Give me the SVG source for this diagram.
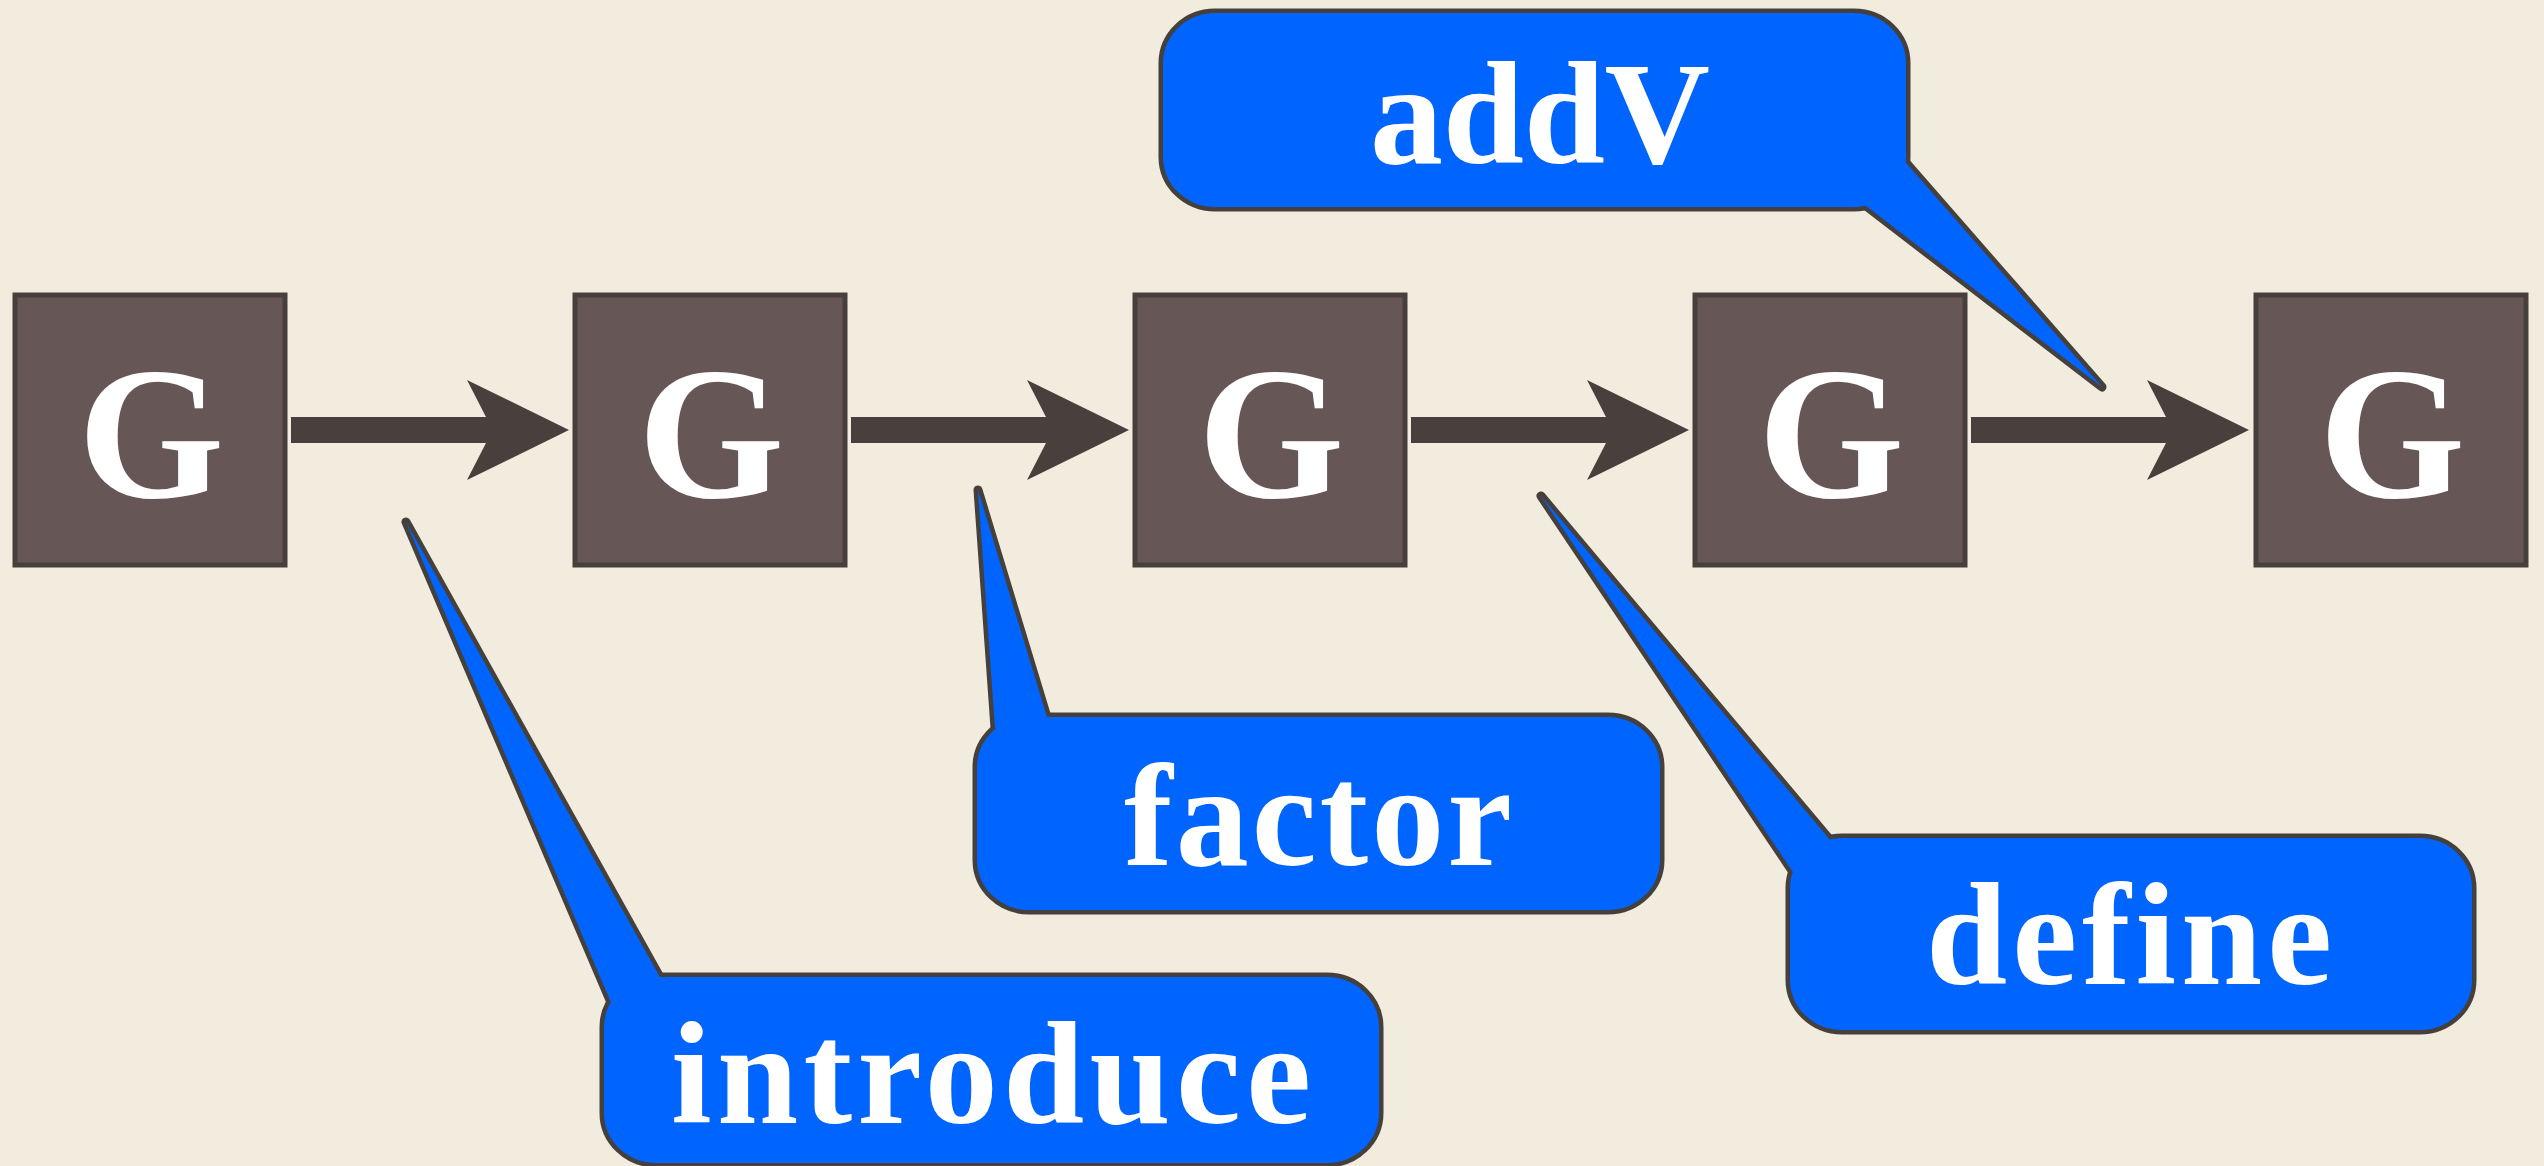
<svg xmlns="http://www.w3.org/2000/svg" width="2544" height="1166" viewBox="0 0 2544 1166">
<style>
.bg{fill:#f1ecde}
.box{fill:#665655;stroke:#46403c;stroke-width:5}
.g{fill:#ffffff;font-family:"Liberation Serif",serif;font-weight:bold;font-size:188px;text-anchor:middle}
.arrow{fill:#47403c}
.cs{fill:none;stroke:#46403c;stroke-width:9;stroke-linejoin:round}
.cf{fill:#0064fe;stroke:none}
.lbl{fill:#ffffff;font-family:"Liberation Serif",serif;font-weight:bold;font-size:146px;text-anchor:middle}
</style>
<defs>
<path id="arw" d="M0,-13 H195 L176,-50 L278,0 L176,50 L195,13 H0 Z"/>
</defs>
<rect class="bg" x="0" y="0" width="2544" height="1166"/>

<g id="node1"><rect class="box" x="15" y="295" width="270" height="270"/><text class="g" x="151" y="497">G</text></g>
<g id="node2"><rect class="box" x="575" y="295" width="270" height="270"/><text class="g" x="711" y="497">G</text></g>
<g id="node3"><rect class="box" x="1135" y="295" width="270" height="270"/><text class="g" x="1271" y="497">G</text></g>
<g id="node4"><rect class="box" x="1695" y="295" width="270" height="270"/><text class="g" x="1831" y="497">G</text></g>
<g id="node5"><rect class="box" x="2256" y="295" width="270" height="270"/><text class="g" x="2392" y="497">G</text></g>

<g id="connectors">
<use href="#arw" class="arrow" x="291" y="430"/>
<use href="#arw" class="arrow" x="851" y="430"/>
<use href="#arw" class="arrow" x="1411" y="430"/>
<use href="#arw" class="arrow" x="1971" y="430"/>
</g>

<g id="callout-addV">
<polygon class="cs" points="2102,387 1840,186 1880,133"/>
<rect class="cs" x="1163" y="13" width="743" height="194" rx="52" ry="50"/>
<polygon class="cf" points="2102,387 1840,186 1880,133"/>
<rect class="cf" x="1163" y="13" width="743" height="194" rx="52" ry="50"/>
<text class="lbl" x="1540" y="163" textLength="340" lengthAdjust="spacing">addV</text>
</g>

<g id="callout-factor">
<polygon class="cs" points="978,490 998,770 1060,760"/>
<rect class="cs" x="977" y="717" width="683" height="193" rx="52" ry="50"/>
<polygon class="cf" points="978,490 998,770 1060,760"/>
<rect class="cf" x="977" y="717" width="683" height="193" rx="52" ry="50"/>
<text class="lbl" x="1318" y="865" textLength="388" lengthAdjust="spacing">factor</text>
</g>

<g id="callout-define">
<polygon class="cs" points="1541,496 1815,905 1862,878"/>
<rect class="cs" x="1790" y="838" width="682" height="192" rx="52" ry="50"/>
<polygon class="cf" points="1541,496 1815,905 1862,878"/>
<rect class="cf" x="1790" y="838" width="682" height="192" rx="52" ry="50"/>
<text class="lbl" x="2129" y="984" textLength="406" lengthAdjust="spacing">define</text>
</g>

<g id="callout-introduce">
<polygon class="cs" points="406,522 627,1040 685,1022"/>
<rect class="cs" x="604" y="977" width="775" height="186" rx="52" ry="50"/>
<polygon class="cf" points="406,522 627,1040 685,1022"/>
<rect class="cf" x="604" y="977" width="775" height="186" rx="52" ry="50"/>
<text class="lbl" x="991" y="1123" textLength="640" lengthAdjust="spacing">introduce</text>
</g>
</svg>
